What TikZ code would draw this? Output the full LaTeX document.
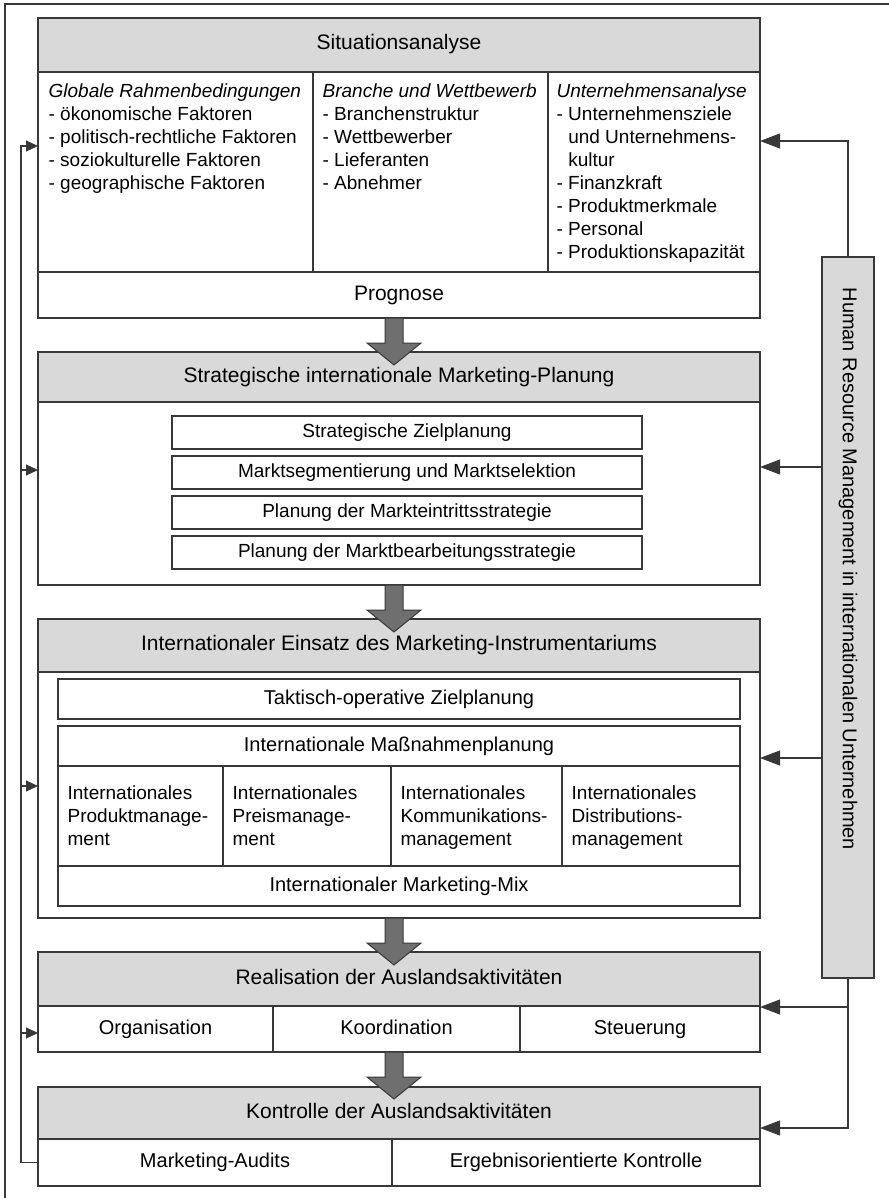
\documentclass[tikz,border=0pt]{standalone}
\usepackage{fontspec}
\setmainfont{Liberation Sans}
\usepackage{graphicx}
\usetikzlibrary{arrows.meta,calc}

\definecolor{headgray}{HTML}{D9D9D9}
\definecolor{linegray}{HTML}{383838}
\definecolor{arrowgray}{HTML}{6F6F6F}

\tikzset{
  cell/.style={draw=linegray, line width=1.1pt, fill=white, inner sep=0pt, text height=14pt, text depth=4pt, font=\fontsize{19}{23}\selectfont},
  head/.style={cell, fill=headgray, font=\fontsize{21}{25}\selectfont},
  txt/.style={inner sep=0pt, anchor=north west, align=left, font=\fontsize{19}{23}\selectfont},
  fb/.style={draw=linegray, line width=1.1pt},
  fbl/.style={fb, -{Triangle[length=12pt,width=11pt]}},
  fbr/.style={fb, -{Triangle[length=20pt,width=15pt]}},
  fat/.style={draw=linegray, line width=1pt, fill=arrowgray, line join=miter}
}

% fat arrow: #1 shaft top, #2 tip
\newcommand\fatarrow[2]{%
  \filldraw[fat] ($(#1)+(-9pt,0pt)$) -- ($(#2)+(-9pt,22pt)$) -- ($(#2)+(-27pt,22pt)$) -- (#2)
    -- ($(#2)+(27pt,22pt)$) -- ($(#2)+(9pt,22pt)$) -- ($(#1)+(9pt,0pt)$) -- cycle;}

\begin{document}
\begin{tikzpicture}[x=1pt,y=-1pt]
\useasboundingbox (0,0) rectangle (888,1198);
\draw[fb] (5,4) rectangle (900,1210);

% Situationsanalyse
\node[head, minimum width=722, minimum height=54] (sit) at (399,45) {Situationsanalyse};
\node[cell, minimum width=275, minimum height=200] (glo) at (175.5,172) {};
\node[cell, minimum width=235, minimum height=200] (bra) at (430.5,172) {};
\node[cell, minimum width=212, minimum height=200] (unt) at (654,172) {};
\node[cell, minimum width=722, minimum height=46, font=\fontsize{21}{25}\selectfont] (prog) at (399,295) {Prognose};
\node[txt] (gloTxt) at ($(glo.north west)+(11pt,-12pt)$) {\textit{Globale Rahmenbedingungen}\\- ökonomische Faktoren\\- politisch-rechtliche Faktoren\\- soziokulturelle Faktoren\\- geographische Faktoren};
\node[txt] (braTxt) at ($(bra.north west)+(10pt,-12pt)$) {\textit{Branche und Wettbewerb}\\- Branchenstruktur\\- Wettbewerber\\- Lieferanten\\- Abnehmer};
\node[txt] (untTxt) at ($(unt.north west)+(9pt,-12pt)$) {\textit{Unternehmensanalyse}\\- Unternehmensziele\\\hphantom{-\ }und Unternehmens-\\\hphantom{-\ }kultur\\- Finanzkraft\\- Produktmerkmale\\- Personal\\- Produktionskapazität};

% Strategische Planung
\node[head, minimum width=722, minimum height=50] (strat) at (399,377) {Strategische internationale Marketing-Planung};
\node[cell, minimum width=722, minimum height=183] (stratBody) at (399,493.5) {};
\node[cell, minimum width=470, minimum height=33] (ziel) at (407,432.5) {Strategische Zielplanung};
\node[cell, minimum width=470, minimum height=33] (segm) at (407,472.5) {Marktsegmentierung und Marktselektion};
\node[cell, minimum width=470, minimum height=33] (eintr) at (407,512.5) {Planung der Markteintrittsstrategie};
\node[cell, minimum width=470, minimum height=33] (bearb) at (407,552.5) {Planung der Marktbearbeitungsstrategie};

% Marketing-Instrumentarium
\node[head, minimum width=722, minimum height=53] (inst) at (399,645.5) {Internationaler Einsatz des Marketing-Instrumentariums};
\node[cell, minimum width=722, minimum height=246] (instBody) at (399,795) {};
\node[cell, minimum width=682, minimum height=40, font=\fontsize{20}{24}\selectfont] (takt) at (399,699) {Taktisch-operative Zielplanung};
\node[cell, minimum width=682, minimum height=40, font=\fontsize{20}{24}\selectfont] (mass) at (399,746) {Internationale Maßnahmenplanung};
\node[cell, minimum width=165, minimum height=100] (prod) at (140.5,816) {};
\node[cell, minimum width=168, minimum height=100] (preis) at (307,816) {};
\node[cell, minimum width=171, minimum height=100] (komm) at (476.5,816) {};
\node[cell, minimum width=178, minimum height=100] (distr) at (651,816) {};
\node[cell, minimum width=682, minimum height=40, font=\fontsize{20}{24}\selectfont] (mix) at (399,886) {Internationaler Marketing-Mix};
\node[txt] (prodTxt) at ($(prod.north west)+(10pt,-20pt)$) {Internationales\\Produktmanage-\\ment};
\node[txt] (preisTxt) at ($(preis.north west)+(10pt,-20pt)$) {Internationales\\Preismanage-\\ment};
\node[txt] (kommTxt) at ($(komm.north west)+(10pt,-20pt)$) {Internationales\\Kommunikations-\\management};
\node[txt] (distrTxt) at ($(distr.north west)+(10pt,-20pt)$) {Internationales\\Distributions-\\management};

% Realisation
\node[head, minimum width=722, minimum height=54] (real) at (399,979) {Realisation der Auslandsaktivitäten};
\node[cell, minimum width=235, minimum height=46, font=\fontsize{20}{24}\selectfont] (org) at (155.5,1029) {Organisation};
\node[cell, minimum width=247, minimum height=46, font=\fontsize{20}{24}\selectfont] (koord) at (396.5,1029) {Koordination};
\node[cell, minimum width=240, minimum height=46, font=\fontsize{20}{24}\selectfont] (steu) at (640,1029) {Steuerung};

% Kontrolle
\node[head, minimum width=722, minimum height=52] (kont) at (399,1113) {Kontrolle der Auslandsaktivitäten};
\node[cell, minimum width=354, minimum height=47, font=\fontsize{20}{24}\selectfont] (audits) at (215,1162.5) {Marketing-Audits};
\node[cell, minimum width=368, minimum height=47, font=\fontsize{20}{24}\selectfont] (ergeb) at (576,1162.5) {Ergebnisorientierte Kontrolle};

% HRM
\node[head, minimum width=52, minimum height=721] (hr) at (848,617.5) {};
\node[inner sep=0pt, anchor=north, font=\fontsize{20}{24}\selectfont] (hrTxt) at ($(hr.north)+(0pt,-31pt)$) {\rotatebox{-90}{Human Resource Management in internationalen Unternehmen}};

% fat arrows
\coordinate (a1s) at (394,318);  \coordinate (a1t) at (394,365);
\coordinate (a2s) at (394,585);  \coordinate (a2t) at (394,632);
\coordinate (a3s) at (394,918);  \coordinate (a3t) at (394,965);
\coordinate (a4s) at (394,1052); \coordinate (a4t) at (394,1099);
\fatarrow{a1s}{a1t}
\fatarrow{a2s}{a2t}
\fatarrow{a3s}{a3t}
\fatarrow{a4s}{a4t}

% feedback left
\coordinate (lBus) at (21,146);
\coordinate (lIn1) at (38,146);
\coordinate (lIn2) at (38,470);
\coordinate (lIn3) at (38,786);
\coordinate (lIn4) at (38,1033);
\draw[fbl] (audits.west) -| (lBus) -- (lIn1);
\draw[fbl] (lBus |- lIn2) -- (lIn2);
\draw[fbl] (lBus |- lIn3) -- (lIn3);
\draw[fbl] (lBus |- lIn4) -- (lIn4);

% HRM right
\coordinate (rIn1) at (760,141);
\coordinate (rIn2) at (760,467);
\coordinate (rIn3) at (760,758);
\coordinate (rIn4) at (760,1007);
\coordinate (rIn5) at (760,1128);
\draw[fbr] (hr.north) |- (rIn1);
\draw[fbr] (hr.west |- rIn2) -- (rIn2);
\draw[fbr] (hr.west |- rIn3) -- (rIn3);
\draw[fbr] (hr.south) |- (rIn5);
\draw[fbr] (hr.south |- rIn4) -- (rIn4);
\end{tikzpicture}
\end{document}
